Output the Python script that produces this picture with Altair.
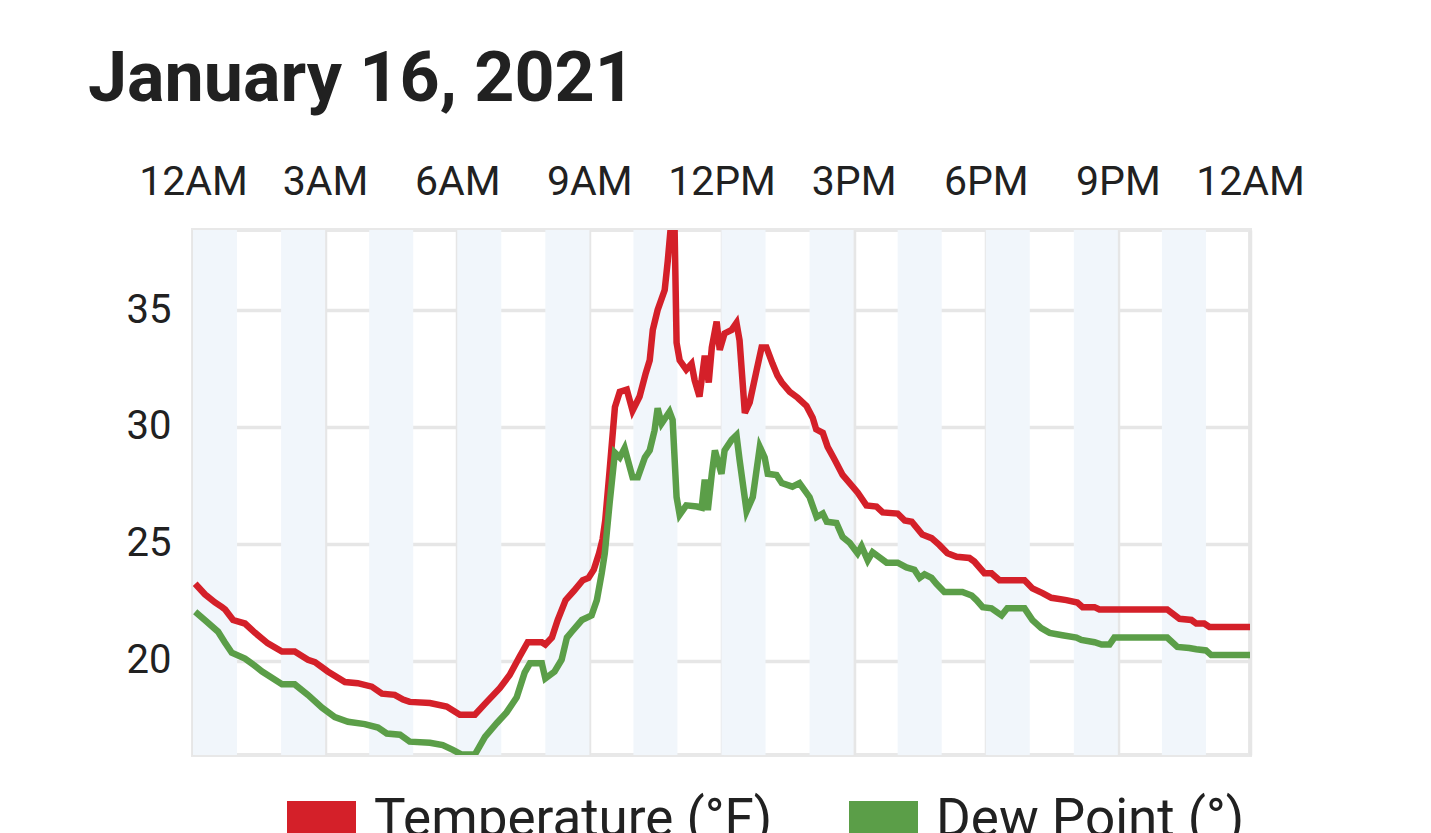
import altair as alt
import pandas as pd

SERIES = ["Temperature (°F)", "Dew Point (°)"]
COLORS = ["#d42029", "#5b9e48"]

temp_hours = [0.05, 0.27, 0.5, 0.66, 0.73, 0.91, 1.18, 1.41, 1.7, 2.02, 2.31, 2.61, 2.77,
              3.06, 3.45, 3.74, 4.06, 4.29, 4.58, 4.77, 4.92, 5.38, 5.76, 6.06, 6.4, 6.67,
              6.97, 7.19, 7.42, 7.6, 7.92, 8.0, 8.15, 8.28, 8.46, 8.65, 8.85, 8.98, 9.1,
              9.22, 9.3, 9.36, 9.46, 9.58, 9.69, 9.85, 9.98, 10.14, 10.28, 10.37, 10.44,
              10.55, 10.71, 10.78, 10.87, 10.93, 10.98, 11.05, 11.2, 11.32, 11.39, 11.5,
              11.62, 11.71, 11.78, 11.89, 11.96, 12.07, 12.23, 12.34, 12.41, 12.53, 12.64,
              12.8, 12.91, 13.02, 13.16, 13.27, 13.37, 13.55, 13.73, 13.93, 14.07, 14.15,
              14.3, 14.41, 14.57, 14.75, 14.91, 15.09, 15.29, 15.52, 15.66, 16.0, 16.16,
              16.32, 16.56, 16.77, 16.95, 17.13, 17.34, 17.63, 17.74, 17.97, 18.13, 18.31,
              18.88, 19.06, 19.29, 19.49, 19.83, 20.08, 20.2, 20.47, 20.58, 22.12, 22.4,
              22.67, 22.78, 22.96, 23.08, 24.0]
temp_values = [23.3, 22.85, 22.5, 22.3, 22.2, 21.75, 21.6, 21.2, 20.75, 20.4, 20.4, 20.05, 19.95,
               19.55, 19.1, 19.05, 18.9, 18.6, 18.55, 18.35, 18.25, 18.2, 18.05, 17.7, 17.7, 18.25,
               18.85, 19.4, 20.2, 20.8, 20.8, 20.7, 21.0, 21.75, 22.6, 23.0, 23.45, 23.55, 23.9,
               24.6, 25.2, 26.0, 28.15, 30.85, 31.5, 31.6, 30.7, 31.3, 32.3, 32.85, 34.15,
               35.0, 35.85, 37.1, 39.0, 39.0, 33.6, 32.85, 32.45, 32.7, 32.0, 31.3,
               33.05, 31.9, 33.4, 34.5, 33.3, 34.0, 34.15, 34.45, 33.7, 30.6, 31.05,
               32.45, 33.4, 33.4, 32.7, 32.2, 31.9, 31.5, 31.25, 30.9, 30.4, 29.9,
               29.75, 29.15, 28.6, 27.95, 27.6, 27.2, 26.65, 26.6, 26.35, 26.3, 26.0,
               25.95, 25.4, 25.25, 24.95, 24.6, 24.45, 24.4, 24.25, 23.75, 23.75, 23.45,
               23.45, 23.1, 22.9, 22.7, 22.6, 22.5, 22.3, 22.3, 22.2, 22.2, 21.8,
               21.75, 21.6, 21.6, 21.45, 21.45]

dew_hours = [0.05, 0.3, 0.57, 0.72, 0.88, 1.18, 1.4, 1.57, 2.02, 2.31, 2.61, 2.93, 3.22, 3.52,
             3.9, 4.2, 4.4, 4.7, 4.92, 5.38, 5.67, 5.9, 6.1, 6.4, 6.63, 6.9, 7.12, 7.35, 7.53,
             7.65, 7.92, 8.0, 8.21, 8.37, 8.49, 8.6, 8.83, 9.05, 9.17, 9.28, 9.35, 9.46, 9.58,
             9.69, 9.8, 9.98, 10.1, 10.26, 10.37, 10.48, 10.55, 10.64, 10.82, 10.89, 10.98,
             11.05, 11.2, 11.44, 11.55, 11.62, 11.69, 11.78, 11.85, 12.0, 12.07, 12.23, 12.34,
             12.41, 12.57, 12.71, 12.87, 12.98, 13.05, 13.25, 13.37, 13.61, 13.77, 14.0, 14.16,
             14.3, 14.39, 14.61, 14.75, 14.91, 15.09, 15.18, 15.32, 15.43, 15.75, 16.0, 16.2,
             16.38, 16.5, 16.61, 16.77, 16.88, 17.06, 17.47, 17.68, 17.79, 17.93, 18.13, 18.36,
             18.49, 18.88, 19.06, 19.26, 19.45, 19.74, 20.06, 20.17, 20.47, 20.63, 20.81,
             20.92, 22.12, 22.35, 22.62, 22.78, 23.0, 23.12, 24.0]
dew_values = [22.1, 21.7, 21.25, 20.8, 20.35, 20.1, 19.8, 19.55, 19.0, 19.0, 18.55, 18.0, 17.6, 17.4,
              17.3, 17.15, 16.9, 16.85, 16.55, 16.5, 16.4, 16.2, 16.0, 16.0, 16.75, 17.35, 17.8, 18.45, 19.5,
              19.9, 19.9, 19.25, 19.55, 20.05, 21.0, 21.25, 21.75, 21.95, 22.6, 23.75, 24.6, 26.75, 28.9,
              28.7, 29.1, 27.85, 27.85, 28.7, 29.0, 29.85, 30.8, 30.15, 30.65, 30.3, 27.0,
              26.25, 26.65, 26.6, 26.55, 27.75, 26.45, 28.0, 29.0, 28.0, 29.0, 29.45, 29.65,
              28.6, 26.4, 27.0, 29.15, 28.7, 28.0, 27.95, 27.6, 27.45, 27.6, 27.0, 26.15,
              26.3, 25.95, 25.9, 25.3, 25.05, 24.6, 24.9, 24.3, 24.65, 24.2, 24.2, 24.0,
              23.9, 23.55, 23.7, 23.55, 23.3, 22.95, 22.95, 22.8, 22.6, 22.3, 22.25, 21.95,
              22.25, 22.25, 21.75, 21.4, 21.2, 21.1, 21.0, 20.9, 20.8, 20.7, 20.7,
              21.0, 21.0, 20.6, 20.55, 20.5, 20.45, 20.25, 20.25]

band_starts = [0, 2, 4, 6, 8, 10, 12, 14, 16, 18, 20, 22]
band_ends = [1, 3, 5, 7, 9, 11, 13, 15, 17, 19, 21, 23]
x_ticks = [0, 3, 6, 9, 12, 15, 18, 21, 24]
y_ticks = [20, 25, 30, 35]
x_domain = [0, 24]
y_domain = [15.98, 38.42]

rows = []
for h, v in zip(temp_hours, temp_values):
    rows.append({"hour": h, "value": v, "series": SERIES[0]})
for h, v in zip(dew_hours, dew_values):
    rows.append({"hour": h, "value": v, "series": SERIES[1]})
df = pd.DataFrame(rows)
bands = pd.DataFrame({"start": band_starts, "end": band_ends})
legend_df = pd.DataFrame({"series": SERIES})

FONT = "Roboto"
TXT = "#212121"
GRID = "#e6e6e6"
x_scale = alt.Scale(domain=x_domain, nice=False)
y_scale = alt.Scale(domain=y_domain, nice=False, zero=False)
color_scale = alt.Scale(domain=SERIES, range=COLORS)

label_expr = ("(datum.value % 12 == 0 ? '12' : '' + (datum.value % 12)) + "
              "(datum.value % 24 < 12 ? 'AM' : 'PM')")

x_axis = alt.Axis(orient="top", values=x_ticks, labelExpr=label_expr,
                  grid=True, gridColor=GRID, gridWidth=3.5,
                  ticks=False, tickSize=0, domain=False, title=None,
                  labelFont=FONT, labelFontSize=41, labelColor=TXT,
                  labelPadding=27, labelFlush=False)
y_axis = alt.Axis(values=y_ticks, grid=True, gridColor=GRID, gridWidth=3.5,
                  ticks=False, tickSize=0, domain=False, title=None,
                  labelFont=FONT, labelFontSize=40, labelColor=TXT,
                  labelPadding=22)

band_layer = alt.Chart(bands).mark_rect(color="#f1f6fb").encode(
    x=alt.X("start:Q", scale=x_scale, axis=x_axis),
    x2="end:Q",
)

line_layer = alt.Chart(df).mark_line(strokeWidth=6.5, clip=True).encode(
    x=alt.X("hour:Q", scale=x_scale, axis=x_axis),
    y=alt.Y("value:Q", scale=y_scale, axis=y_axis),
    color=alt.Color("series:N", scale=color_scale, legend=None),
    detail="series:N",
)

legend_layer = alt.Chart(legend_df).mark_square(filled=True, opacity=0).encode(
    x=alt.value(0),
    y=alt.value(0),
    color=alt.Color("series:N", scale=color_scale,
                    legend=alt.Legend(orient="none", legendX=94, legendY=571,
                                      direction="horizontal", title=None,
                                      symbolType="square", symbolSize=4761,
                                      symbolStrokeWidth=0, symbolOpacity=1,
                                      labelFont=FONT, labelFontSize=53, labelColor=TXT,
                                      labelBaseline="alphabetic", labelOffset=18,
                                      columnPadding=76, labelLimit=800, padding=0)),
)

chart = alt.layer(band_layer, line_layer, legend_layer).resolve_scale(
    color="independent"
).properties(
    width=1057,
    height=525,
    title=alt.TitleParams("January 16, 2021", anchor="start", frame="group", font=FONT,
                          fontSize=70, fontWeight="bold", color=TXT, dx=-105, offset=45),
    autosize=alt.AutoSizeParams(type="none"),
    padding={"left": 185, "top": 222, "right": 150, "bottom": 80},
).configure(font=FONT).configure_view(stroke="#e8e8e8", strokeWidth=4)

chart.save("out.html", embed_options={"renderer": "svg", "actions": False})
